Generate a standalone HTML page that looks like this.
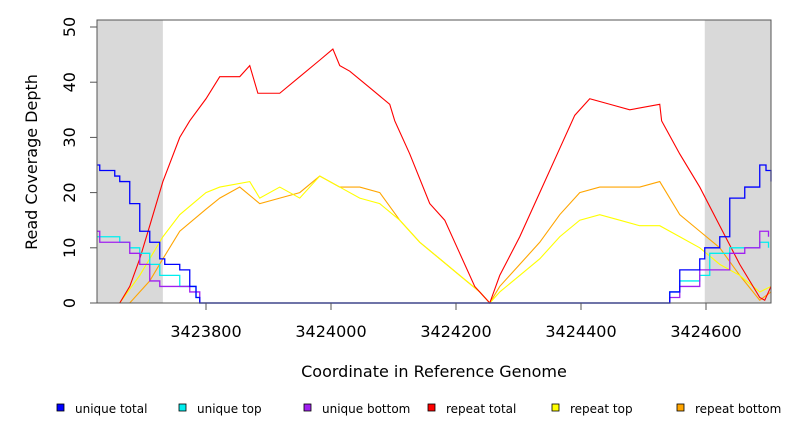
<!DOCTYPE html>
<html><head><meta charset="utf-8"><style>
body{margin:0;background:#fff}
svg{display:block;font-family:"DejaVu Sans","Liberation Sans",sans-serif}
</style></head><body>
<svg id="chart" width="792" height="432">
<g id="gray"></g>
<g id="series"></g>
<g id="axes"></g>
<text x="434" y="377" font-size="16" text-anchor="middle">Coordinate in Reference Genome</text>
<text transform="translate(37,162) rotate(-90)" font-size="16" text-anchor="middle">Read Coverage Depth</text>
<g id="legend"></g>
</svg>
<script>
const yTicks=[0,10,20,30,40,50];
const xTicks=[3423800,3424000,3424200,3424400,3424600];
const grayRegions=[[3423626,3423731],[3424598,3424704]];
const seriesNames=["unique total","unique top","unique bottom","repeat total","repeat top","repeat bottom"];
const seriesColors=["#0000ff","#00eeee","#a020f0","#ff0000","#ffff00","#ffa500"];
const redX=[3423626,3423654,3423662,3423678,3423694,3423710,3423731,3423758,3423774,3423800,3423822,3423854,3423870,3423883,3423918,3423950,3423982,3424003,3424014,3424030,3424062,3424094,3424102,3424126,3424158,3424182,3424206,3424230,3424254,3424270,3424302,3424334,3424366,3424390,3424414,3424446,3424478,3424526,3424529,3424558,3424590,3424622,3424654,3424686,3424694,3424704];
const redY=[0,0,0,3,8,14,22,30,33,37,41,41,43,38,38,41,44,46,43,42,39,36,33,27,18,15,9,3,0,5,12,20,28,34,37,36,35,36,33,27,21,14,7,1,0.5,3];
const yelX=[3423626,3423662,3423694,3423731,3423758,3423800,3423822,3423870,3423886,3423918,3423950,3423982,3424014,3424046,3424078,3424110,3424142,3424174,3424206,3424238,3424254,3424270,3424302,3424334,3424366,3424398,3424430,3424462,3424494,3424526,3424558,3424590,3424622,3424654,3424686,3424704];
const yelY=[0,0,5,12,16,20,21,22,19,21,19,23,21,19,18,15,11,8,5,2,0,2,5,8,12,15,16,15,14,14,12,10,7,5,2,3];
const ornX=[3423626,3423678,3423710,3423731,3423758,3423800,3423822,3423854,3423886,3423918,3423950,3423982,3424014,3424046,3424078,3424110,3424142,3424174,3424206,3424238,3424254,3424270,3424302,3424334,3424366,3424398,3424430,3424462,3424494,3424526,3424558,3424590,3424622,3424654,3424686,3424704];
const ornY=[0,0,4,8,13,17,19,21,18,19,20,23,21,21,20,15,11,8,5,2,0,3,7,11,16,20,21,21,21,22,16,13,10,5,0.5,2];
const bluX=[3423626,3423630,3423638,3423654,3423662,3423678,3423694,3423710,3423726,3423734,3423758,3423774,3423784,3423790,3424534,3424542,3424558,3424590,3424598,3424622,3424638,3424662,3424686,3424696,3424704];
const bluY=[25,24,24,23,22,18,13,11,8,7,6,3,1,0,0,2,6,8,10,12,19,21,25,24,22];
const cyaX=[3423626,3423662,3423678,3423694,3423710,3423726,3423758,3423784,3423790,3424534,3424542,3424558,3424590,3424606,3424638,3424686,3424700];
const cyaY=[12,11,10,9,7,5,3,1,0,0,2,4,5,9,10,11,10];
const purX=[3423626,3423630,3423678,3423694,3423710,3423726,3423774,3423790,3424542,3424558,3424590,3424638,3424662,3424686,3424700];
const purY=[13,11,9,7,4,3,2,0,1,3,6,9,10,13,12];

const L=97,R=771,T=20,B=303;
const G0=3423625.6,G1=3424704;
const sx=g=>L+(g-G0)/(G1-G0)*(R-L);
const sy=v=>B-v*5.52;
const NS="http://www.w3.org/2000/svg";
function mk(tag,attrs,parent){const e=document.createElementNS(NS,tag);for(const k in attrs)e.setAttribute(k,attrs[k]);parent.appendChild(e);return e;}
const gray=document.getElementById('gray');
grayRegions.forEach(r=>{
 const e=mk('rect',{x:sx(r[0]),y:T,width:sx(r[1])-sx(r[0]),height:B-T,fill:'#d9d9d9'},gray);
 
 
});
const sg=document.getElementById('series');
function line(xs,ys,color,step,name){
 let d='';
 xs.forEach((x,i)=>{
  const px=sx(x),py=sy(ys[i]);
  if(i===0)d+='M'+px+' '+py;
  else if(step)d+='H'+px+'V'+py;
  else d+='L'+px+' '+py;
 });
 const e=mk('path',{d:d,fill:'none',stroke:color,'stroke-width':step?1.3:1.1},sg);
 
 
}
line(ornX,ornY,seriesColors[5],false,'repeat-bottom-line');
line(yelX,yelY,seriesColors[4],false,'repeat-top-line');
line(redX,redY,seriesColors[3],false,'repeat-total-line');
line(cyaX,cyaY,seriesColors[1],true,'unique-top-line');
line(purX,purY,seriesColors[2],true,'unique-bottom-line');
line(bluX,bluY,seriesColors[0],true,'unique-total-line');
const ax=document.getElementById('axes');
mk('rect',{x:L,y:T,width:R-L,height:B-T,fill:'none',stroke:'#555','stroke-width':1},ax);
yTicks.forEach(v=>{
 mk('line',{x1:L-7,x2:L,y1:sy(v),y2:sy(v),stroke:'#555'},ax);
 const t=mk('text',{transform:`translate(75,${sy(v)}) rotate(-90)`,'font-size':16,'text-anchor':'middle'},ax);
 t.textContent=v;
 
 
});
xTicks.forEach(v=>{
 mk('line',{x1:sx(v),x2:sx(v),y1:B,y2:B+7,stroke:'#555'},ax);
 const t=mk('text',{x:sx(v),y:337,'font-size':16,'text-anchor':'middle'},ax);
 t.textContent=v;
 
 
});
const lg=document.getElementById('legend');
const lx=[61,183,308,432,556,681];
seriesNames.forEach((n,i)=>{
 const r=mk('rect',{x:lx[i]-4,y:404,width:7,height:7,fill:seriesColors[i],stroke:'#000','stroke-width':0.8},lg);
 
 
 const t=mk('text',{x:lx[i]+14,y:413,'font-size':12},lg);
 t.textContent=n;
 
 
});
</script>
</body></html>
